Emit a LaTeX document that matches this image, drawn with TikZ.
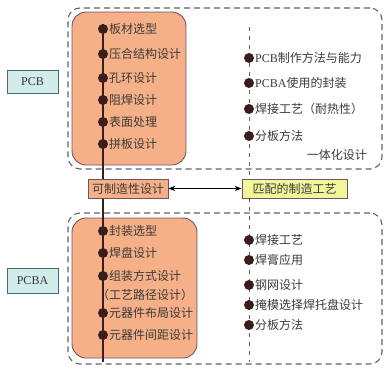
\documentclass[tikz,border=0pt]{standalone}
\usepackage{fontspec}
\setmainfont{Noto Sans CJK SC}
\newfontfamily\latinfont{Liberation Serif}
\usetikzlibrary{positioning,arrows.meta}

\definecolor{panelorange}{HTML}{F6B087}
\definecolor{paneledge}{HTML}{6E5566}
\definecolor{sidecyan}{HTML}{D2ECEA}
\definecolor{sideedge}{HTML}{3F6E73}
\definecolor{procyellow}{HTML}{F4F59A}
\definecolor{frameblue}{HTML}{5C6470}
\definecolor{dotbrown}{HTML}{3A1E1C}
\definecolor{itemtext}{HTML}{3A3A3A}

\tikzset{
  groupframe/.style={draw=frameblue, dash pattern=on 6pt off 4pt, line width=1.1pt, rounded corners=12pt},
  designpanel/.style={draw=paneledge, fill=panelorange, line width=0.9pt, rounded corners=14pt},
  sidelabel/.style={draw=sideedge, fill=sidecyan, line width=0.8pt, minimum width=51pt, font=\latinfont\fontsize{12}{14}\selectfont, text=itemtext},
  linkbox/.style={draw=paneledge, line width=0.8pt, minimum height=19pt, inner sep=1pt, text=itemtext},
  bulletdot/.style={circle, fill=dotbrown, inner sep=0pt, minimum size=10pt},
  item/.style={anchor=west, inner sep=1pt, text=itemtext}
}

\begin{document}
\begin{tikzpicture}[x=1pt, y=-1pt, font=\fontsize{12}{14}\selectfont]
    \useasboundingbox (0,0) rectangle (388,370);

    % Dashed group frames
    \node[groupframe, minimum width=314pt, minimum height=161pt] (pcbframe) at (225,88.5) {};
    \node[groupframe, minimum width=314pt, minimum height=151pt] (pcbaframe) at (225,288.5) {};

    % Orange design panels
    \node[designpanel, minimum width=114pt, minimum height=153pt] (pcbpanel) at (129,88.5) {};
    \node[designpanel, minimum width=125pt, minimum height=140pt] (pcbapanel) at (134.5,288) {};

    % Spines
    \coordinate (leftspinetop) at (103,24);
    \coordinate (leftspinebottom) at (103,362);
    \coordinate (rightspinetop) at (249,27);
    \coordinate (rightspinebottom) at (249,362);
    \draw[dotbrown, line width=1.2pt] (leftspinetop) -- (leftspinebottom);
    \draw[frameblue, dash pattern=on 4pt off 5pt, line width=1pt] (rightspinetop) -- (rightspinebottom);

    % Side labels
    \node[sidelabel, minimum height=23pt] (pcblabel) at (32.5,81.5) {PCB};
    \node[sidelabel, minimum height=25pt] (pcbalabel) at (32.5,280.5) {PCBA};

    % Middle link
    \node[linkbox, fill=panelorange, minimum width=80pt] (dfm) at (128,188.5) {可制造性设计};
    \node[linkbox, fill=procyellow, minimum width=105pt] (process) at (294.5,188.5) {匹配的制造工艺};
    \draw[{Stealth[length=7pt]}-{Stealth[length=7pt]}, line width=1pt] (dfm) -- (process);

    % PCB design items
    \foreach \name/\y/\txt in {a/29/板材选型, b/54/压合结构设计, c/78/孔环设计,
        d/100/阻焊设计, e/122/表面处理, f/144/拼板设计} {
      \node[bulletdot] (pcbdot\name) at (103,\y) {};
      \node[item] (pcbitem\name) at (108,\y) {\txt};
    }

    % PCB process items
    \foreach \name/\y/\txt in {a/58/{{\latinfont PCB}制作方法与能力}, b/83/{{\latinfont PCBA}使用的封装},
        c/109/焊接工艺（耐热性）, d/136/分板方法} {
      \node[bulletdot] (pcbprocdot\name) at (249,\y) {};
      \node[item] (pcbprocitem\name) at (254,\y) {\txt};
    }
    \node[item, anchor=east] (integrated) at (368,155) {一体化设计};

    % PCBA design items
    \foreach \name/\y/\txt in {a/231/封装选型, b/253/焊盘设计, c/276/组装方式设计,
        d/313/元器件布局设计, e/335/元器件间距设计} {
      \node[bulletdot] (pcbadot\name) at (103,\y) {};
      \node[item] (pcbaitem\name) at (108,\y) {\txt};
    }
    \node[item] (routeitem) at (96,295) {（工艺路径设计）};

    % PCBA process items
    \foreach \name/\y/\txt in {a/240/焊接工艺, b/260/焊膏应用, c/285/钢网设计,
        d/305/掩模选择焊托盘设计, e/325/分板方法} {
      \node[bulletdot] (pcbaprocdot\name) at (249,\y) {};
      \node[item] (pcbaprocitem\name) at (254,\y) {\txt};
    }
\end{tikzpicture}
\end{document}
